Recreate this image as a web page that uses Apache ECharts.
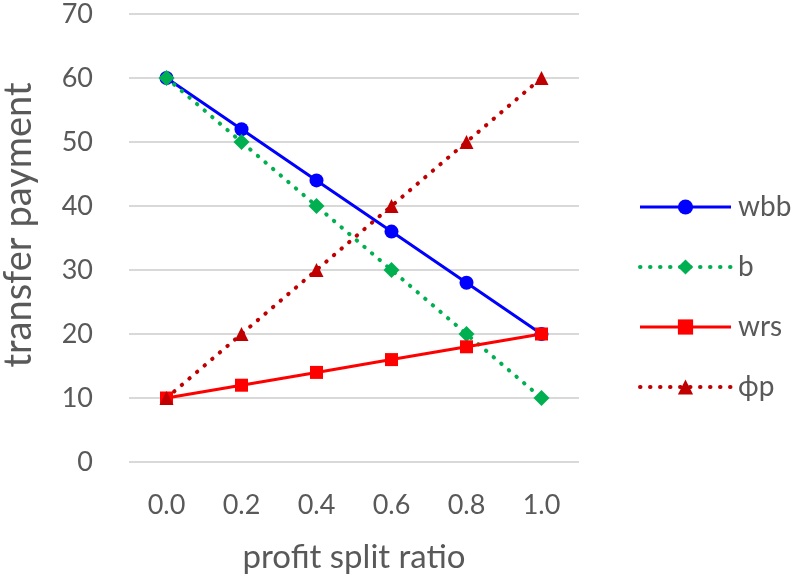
<!DOCTYPE html>
<html><head><meta charset="utf-8">
<script src="https://cdn.jsdelivr.net/npm/echarts@6/dist/echarts.min.js"></script>
<style>html,body{margin:0;padding:0;background:#fff}#c{width:800px;height:578px}</style>
</head><body><div id="c"></div>
<script>
var categories = ['0.0','0.2','0.4','0.6','0.8','1.0'];
var wbb = [60, 52, 44, 36, 28, 20];
var bVals = [60, 50, 40, 30, 20, 10];
var wrs = [10, 12, 14, 16, 18, 20];
var phiP = [10, 20, 30, 40, 50, 60];
var seriesNames = ['wbb', 'b', 'wrs', 'ϕp'];

var font = 'Lato, "Open Sans", sans-serif';
var textColor = '#595959';
var chart = echarts.init(document.getElementById('c'));
var dotted = [0.5, 9.5];
chart.setOption({
  animation: false,
  grid: {left: 129, right: 221, top: 14, bottom: 116, outerBoundsMode: 'none'},
  legend: {
    orient: 'vertical', left: 633, top: 188,
    itemWidth: 91, itemHeight: 19, itemGap: 32,
    lineStyle: {width: 'inherit', type: 'inherit', cap: 'inherit'},
    textStyle: {fontFamily: font, fontSize: 28, color: textColor, padding: [0,0,0,2]},
    data: seriesNames
  },
  xAxis: {
    type: 'category', data: categories, boundaryGap: true,
    axisLine: {show: false}, axisTick: {show: false},
    axisLabel: {fontFamily: font, fontSize: 27, color: textColor, margin: 30},
    name: 'profit split ratio', nameLocation: 'middle', nameGap: 79,
    nameTextStyle: {fontFamily: font, fontSize: 33, color: textColor}
  },
  yAxis: {
    type: 'value', min: 0, max: 70, interval: 10,
    axisLine: {show: false}, axisTick: {show: false},
    splitLine: {lineStyle: {color: '#d9d9d9', width: 2}},
    axisLabel: {fontFamily: font, fontSize: 27, color: textColor, margin: 36},
    name: 'transfer payment', nameLocation: 'middle', nameGap: 91, nameRotate: 90,
    nameTextStyle: {fontFamily: font, fontSize: 38, color: textColor, padding: [0,0,0,26]}
  },
  series: [
    {name: seriesNames[0], type: 'line', data: wbb, symbol: 'circle', symbolSize: 14,
     itemStyle: {color: '#0000ff'}, lineStyle: {color: '#0000ff', width: 3}},
    {name: seriesNames[1], type: 'line', data: bVals, symbol: 'diamond', symbolSize: 16,
     itemStyle: {color: '#00b050'}, lineStyle: {color: '#00b050', width: 4, type: dotted, cap: 'round'}},
    {name: seriesNames[2], type: 'line', data: wrs, symbol: 'rect', symbolSize: 13,
     itemStyle: {color: '#ff0000'}, lineStyle: {color: '#ff0000', width: 3}},
    {name: seriesNames[3], type: 'line', data: phiP, symbol: 'triangle', symbolSize: 14,
     itemStyle: {color: '#c00000'}, lineStyle: {color: '#c00000', width: 4, type: dotted, cap: 'round'}}
  ]
});
</script></body></html>
